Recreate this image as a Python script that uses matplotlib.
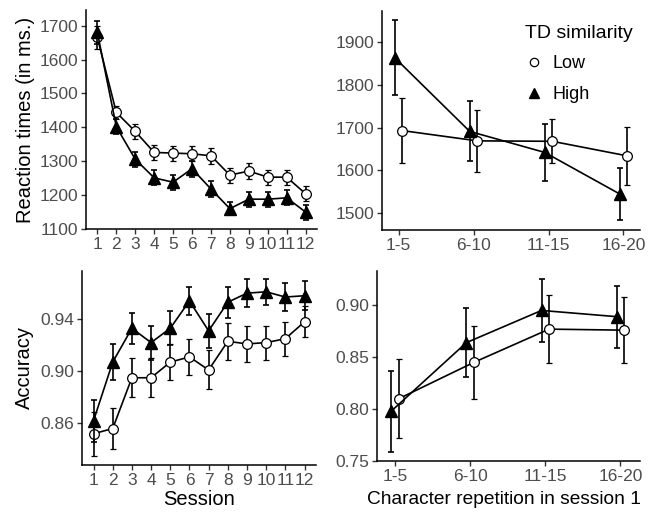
import numpy as np
import matplotlib
matplotlib.use("Agg")
import matplotlib.pyplot as plt
from matplotlib.lines import Line2D

plt.rcParams['font.family'] = ['Liberation Sans', 'DejaVu Sans']

sessions = list(range(1, 13))
reps = ["1-5", "6-10", "11-15", "16-20"]

# reaction times per session
rt_low = [1665, 1444, 1388, 1326, 1324, 1322, 1316, 1259, 1271, 1253, 1253, 1204]
rt_low_err = [33, 20, 22, 22, 22, 22, 24, 22, 23, 22, 22, 22]
rt_high = [1680, 1402, 1306, 1251, 1238, 1278, 1218, 1160, 1188, 1188, 1192, 1150]
rt_high_err = [33, 22, 22, 22, 22, 24, 24, 20, 22, 22, 22, 22]

# reaction times per repetition (session 1)
rep_rt_low = [1693, 1669, 1668, 1634]
rep_rt_low_err = [76, 73, 51, 67]
rep_rt_high = [1863, 1691, 1642, 1545]
rep_rt_high_err = [88, 70, 67, 61]

# accuracy per session
acc_low = [0.852, 0.856, 0.895, 0.895, 0.907, 0.911, 0.901, 0.923, 0.921, 0.922, 0.925, 0.938]
acc_low_err = [0.017, 0.016, 0.015, 0.015, 0.014, 0.014, 0.015, 0.014, 0.014, 0.013, 0.013, 0.012]
acc_high = [0.862, 0.907, 0.933, 0.922, 0.933, 0.954, 0.931, 0.953, 0.960, 0.961, 0.957, 0.958]
acc_high_err = [0.016, 0.014, 0.012, 0.013, 0.013, 0.011, 0.013, 0.012, 0.011, 0.010, 0.011, 0.011]

# accuracy per repetition (session 1)
rep_acc_low = [0.810, 0.845, 0.877, 0.876]
rep_acc_low_err = [0.038, 0.035, 0.033, 0.032]
rep_acc_high = [0.798, 0.864, 0.895, 0.889]
rep_acc_high_err = [0.039, 0.033, 0.030, 0.030]

fig = plt.figure(figsize=(6.63, 5.15), dpi=100)
ax_tl = fig.add_axes([0.1297, 0.5553, 0.3484, 0.4252])
ax_tr = fig.add_axes([0.5762, 0.5534, 0.3891, 0.4252])
ax_bl = fig.add_axes([0.1237, 0.0971, 0.353, 0.3767])
ax_br = fig.add_axes([0.5686, 0.1049, 0.3967, 0.3689])

grey = "#4D4D4D"
eb = dict(color="black", lw=1.2, elinewidth=1.2, capsize=2.5, capthick=1.2)


def draw_low(ax, x, y, err):
    ax.errorbar(x, y, yerr=err, marker="o", ms=7, mfc="white", mec="black",
                mew=0.9, zorder=3, **eb)


def draw_high(ax, x, y, err):
    ax.errorbar(x, y, yerr=err, marker="^", ms=8, mfc="black", mec="black",
                zorder=4, **eb)


def style(ax):
    for s in ["top", "right"]:
        ax.spines[s].set_visible(False)
    for s in ["left", "bottom"]:
        ax.spines[s].set_linewidth(1.1)
    ax.tick_params(axis="both", labelcolor=grey, labelsize=12.5, length=3.5,
                   width=1.0, pad=2, color="#333333")


x = np.array(sessions)
draw_low(ax_tl, x, rt_low, rt_low_err)
draw_high(ax_tl, x, rt_high, rt_high_err)
draw_low(ax_bl, x, acc_low, acc_low_err)
draw_high(ax_bl, x, acc_high, acc_high_err)

# small dodge between the two groups on the repetition panels
xr = np.arange(len(reps))
d = 0.05
draw_low(ax_tr, xr + d, rep_rt_low, rep_rt_low_err)
draw_high(ax_tr, xr - d, rep_rt_high, rep_rt_high_err)
draw_low(ax_br, xr + d, rep_acc_low, rep_acc_low_err)
draw_high(ax_br, xr - d, rep_acc_high, rep_acc_high_err)

for ax in [ax_tl, ax_tr, ax_bl, ax_br]:
    style(ax)

ax_tl.set_xlim(0.4, 12.6)
ax_tl.set_ylim(1100, 1746)
ax_tl.set_xticks(sessions)
ax_tl.set_yticks([1100, 1200, 1300, 1400, 1500, 1600, 1700])
ax_tl.set_ylabel("Reaction times (in ms.)", fontsize=14.5, labelpad=3)

ax_bl.set_xlim(0.4, 12.6)
ax_bl.set_ylim(0.828, 0.977)
ax_bl.set_xticks(sessions)
ax_bl.set_yticks([0.86, 0.90, 0.94])
ax_bl.set_yticklabels(["0.86", "0.90", "0.94"])
ax_bl.set_ylabel("Accuracy", fontsize=14.5, labelpad=5)
ax_bl.set_xlabel("Session", fontsize=14.5, labelpad=2)

ax_tr.set_xlim(-0.22, 3.22)
ax_tr.set_ylim(1461, 1972)
ax_tr.set_xticks(xr)
ax_tr.set_xticklabels(reps)
ax_tr.set_yticks([1500, 1600, 1700, 1800, 1900])

ax_br.set_xlim(-0.24, 3.26)
ax_br.set_ylim(0.75, 0.933)
ax_br.set_xticks(xr)
ax_br.set_xticklabels(reps)
ax_br.set_yticks([0.75, 0.80, 0.85, 0.90])
ax_br.set_yticklabels(["0.75", "0.80", "0.85", "0.90"])
ax_br.set_xlabel("Character repetition in session 1", fontsize=13.8, labelpad=6)
ax_br.xaxis.set_label_coords(0.482, -0.16)

handles = [
    Line2D([], [], ls="none", marker="o", ms=6, mfc="white", mec="black", mew=0.9),
    Line2D([], [], ls="none", marker="^", ms=7, mfc="black", mec="black"),
]
leg = ax_tr.legend(handles, ["Low", "High"], title="TD similarity", loc="upper left",
                   bbox_to_anchor=(0.505, 0.995), frameon=False, fontsize=13,
                   title_fontsize=14, handletextpad=0.5, labelspacing=0.75,
                   handlelength=1.0, borderpad=0.2)
leg._legend_box.align = "left"

fig.savefig("out.png", dpi=100)
